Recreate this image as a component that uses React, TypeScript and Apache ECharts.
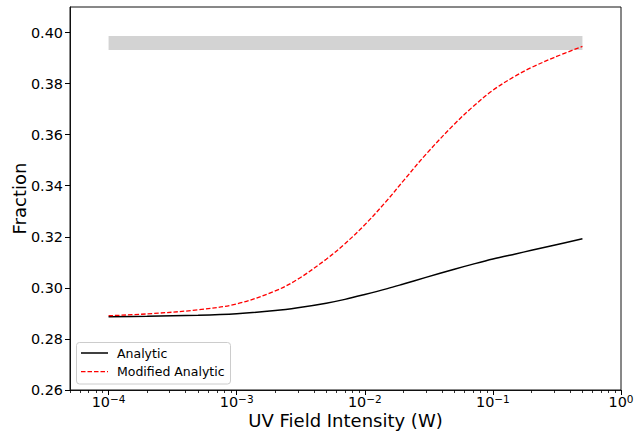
import React, { useEffect, useRef } from "react";
import * as echarts from "echarts";

// UV field intensity samples (W)
const uvField = [
  1e-4, 2e-4, 5e-4, 1e-3, 2e-3, 3e-3, 5e-3, 7e-3, 1e-2, 1.5e-2, 2e-2, 3e-2,
  5e-2, 7e-2, 0.1, 0.15, 0.2, 0.3, 0.5,
];
const analytic = [
  0.2887, 0.2889, 0.2893, 0.2899, 0.2911, 0.2922, 0.294, 0.2955, 0.2974,
  0.2997, 0.3015, 0.3041, 0.3073, 0.3093, 0.3113, 0.3133, 0.3147, 0.3167,
  0.3192,
];
const modifiedAnalytic = [
  0.2891, 0.2898, 0.2914, 0.2937, 0.2988, 0.3034, 0.3112, 0.3173, 0.3247,
  0.3344, 0.3419, 0.3523, 0.3641, 0.371, 0.3774, 0.383, 0.3863, 0.3902,
  0.3946,
];

// Shaded reference range
const bandX = [1e-4, 0.5];
const bandY = [0.3932, 0.3986];

// Axis ticks
const xMajorTicks = [1e-4, 1e-3, 1e-2, 1e-1, 1];
const xMinorMultipliers = [2, 3, 4, 5, 6, 7, 8, 9];
const yTicks = [0.26, 0.28, 0.3, 0.32, 0.34, 0.36, 0.38, 0.4];

const legendNames = ["Analytic", "Modified Analytic"];

const xMinorTicks: number[] = [];
[1e-5, ...xMajorTicks].forEach((d) =>
  xMinorMultipliers.forEach((m) => {
    const v = d * m;
    if (v >= 5e-5 && v < 1) xMinorTicks.push(v);
  })
);

const FONT = "DejaVu Sans";
const BLACK = "#000000";
const RED = "#ff0000";
const RED_DASH = [4.5, 2];

export default function App() {
  const ref = useRef<HTMLDivElement>(null);

  useEffect(() => {
    if (!ref.current) return;
    const chart = echarts.init(ref.current, null, { renderer: "svg" });

    const toPairs = (ys: number[]) => uvField.map((x, i) => [x, ys[i]]);

    // Legend box drawn as graphic elements (line samples + labels)
    const legendBox = { x: 76.5, y: 342.5, w: 154, h: 41.5 };
    const rowY = [353, 371.7];
    const legendGraphic = {
      type: "group",
      children: [
        {
          type: "rect",
          shape: { x: legendBox.x, y: legendBox.y, width: legendBox.w, height: legendBox.h, r: 3 },
          style: { fill: "rgba(255,255,255,0.8)", stroke: "#cccccc", lineWidth: 1 },
        },
        {
          type: "line",
          shape: { x1: 81, y1: rowY[0], x2: 108, y2: rowY[0] },
          style: { stroke: BLACK, lineWidth: 1.5 },
        },
        {
          type: "line",
          shape: { x1: 81, y1: rowY[1], x2: 108, y2: rowY[1] },
          style: { stroke: RED, lineWidth: 1.3, lineDash: RED_DASH },
        },
        ...legendNames.map((name, i) => ({
          type: "text",
          x: 117,
          y: rowY[i],
          style: {
            text: name,
            fontFamily: FONT,
            fontSize: 12.5,
            fill: BLACK,
            verticalAlign: "middle",
            align: "left",
          },
        })),
      ],
    };

    chart.setOption({
      animation: false,
      backgroundColor: "#fff",
      grid: {
        left: 70,
        right: 13,
        top: 7,
        bottom: 41,
        outerBoundsMode: "none",
        containLabel: false,
        show: true,
        borderColor: "#111",
        borderWidth: 1,
        backgroundColor: "transparent",
      },
      graphic: [legendGraphic],
      xAxis: [
        {
          type: "log",
          logBase: 10,
          min: 5e-5,
          max: 1,
          name: "UV Field Intensity (W)",
          nameLocation: "middle",
          nameGap: 21,
          nameMoveOverlap: false,
          nameTextStyle: { fontFamily: FONT, fontSize: 18, color: BLACK },
          axisLine: { show: true, onZero: false, lineStyle: { color: "#111", width: 1 } },
          axisTick: {
            show: true,
            length: 5,
            lineStyle: { color: BLACK, width: 1 },
            customValues: xMajorTicks,
          },
          axisLabel: {
            show: true,
            margin: 3,
            customValues: xMajorTicks,
            formatter: (v: number) => {
              const e = Math.round(Math.log10(v));
              return `{b|10}{s|${e < 0 ? "\u2212" + -e : e}}`;
            },
            rich: {
              b: { fontFamily: FONT, fontSize: 14.4, color: BLACK, verticalAlign: "bottom", lineHeight: 16 },
              s: { fontFamily: FONT, fontSize: 10.5, color: BLACK, verticalAlign: "top", lineHeight: 10 },
            },
          },
          splitLine: { show: false },
          minorTick: { show: false },
        },
        {
          type: "log",
          logBase: 10,
          min: 5e-5,
          max: 1,
          position: "bottom",
          axisLine: { show: false },
          axisTick: {
            show: true,
            length: 3,
            lineStyle: { color: BLACK, width: 0.8 },
            customValues: xMinorTicks,
          },
          axisLabel: { show: false },
          splitLine: { show: false },
        },
      ],
      yAxis: {
        type: "value",
        min: 0.26,
        max: 0.41,
        interval: 0.02,
        name: "Fraction",
        nameLocation: "middle",
        nameGap: 42,
        nameMoveOverlap: false,
        nameTextStyle: { fontFamily: FONT, fontSize: 18, color: BLACK },
        axisLine: { show: true, lineStyle: { color: "#111", width: 1 } },
        axisTick: {
          show: true,
          length: 5,
          lineStyle: { color: BLACK, width: 1 },
          customValues: yTicks,
        },
        axisLabel: {
          margin: 7,
          customValues: yTicks,
          fontFamily: FONT,
          fontSize: 14.4,
          color: BLACK,
          formatter: (v: number) => v.toFixed(2),
        },
        splitLine: { show: false },
      },
      series: [
        {
          name: "band",
          type: "line",
          data: [],
          silent: true,
          markArea: {
            silent: true,
            itemStyle: { color: "#d3d3d3" },
            data: [
              [
                { xAxis: bandX[0], yAxis: bandY[0] },
                { xAxis: bandX[1], yAxis: bandY[1] },
              ],
            ],
          },
        },
        {
          name: legendNames[0],
          type: "line",
          data: toPairs(analytic),
          showSymbol: false,
          symbol: "none",
          smooth: 0.35,
          lineStyle: { color: BLACK, width: 1.5 },
          itemStyle: { color: BLACK },
        },
        {
          name: legendNames[1],
          type: "line",
          data: toPairs(modifiedAnalytic),
          showSymbol: false,
          symbol: "none",
          smooth: 0.35,
          lineStyle: { color: RED, width: 1.3, type: RED_DASH },
          itemStyle: { color: RED },
        },
      ],
    });

    return () => chart.dispose();
  }, []);

  return (
    <div
      ref={ref}
      style={{ position: "fixed", left: 0, top: 0, width: 634, height: 431 }}
    />
  );
}
